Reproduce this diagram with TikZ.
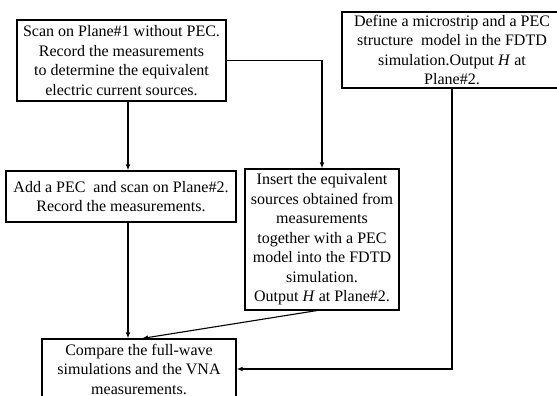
\documentclass[tikz,border=0pt]{standalone}
\usepackage{fontspec}
\setmainfont{Liberation Serif}
\usetikzlibrary{arrows.meta}
\begin{document}
\begin{tikzpicture}[x=1pt,y=-1pt,
  box/.style={draw, line width=1.1pt, align=center, inner sep=0pt,
    font=\fontsize{16}{19.5}\selectfont},
  arr/.style={line width=1.1pt, -{Latex[length=6pt,width=4.5pt]}}]
\useasboundingbox (0,0) rectangle (557,396);
\fill[white] (0,0) rectangle (557,396);
\clip (0,0) rectangle (557,396);
\coordinate (x1) at (128,0);
\node[box, minimum width=209pt, minimum height=81pt] (scan) at (121.5,60.5)
  {Scan on Plane\#1 without PEC.\\Record the measurements\\to determine the equivalent\\electric current sources.};
\node[box, minimum width=220pt, minimum height=76pt] (define) at (452,50)
  {Define a microstrip and a PEC\\structure~ model in the FDTD\\simulation.Output \textit{H} at\\Plane\#2.};
\node[box, minimum width=230pt, minimum height=51pt] (add) at (121,196.5)
  {Add a PEC~ and scan on Plane\#2.\\Record the measurements.};
\node[box, minimum width=154pt, minimum height=141pt] (insert) at (322,239.5)
  {Insert the equivalent\\sources obtained from\\measurements\\together with a PEC\\model into the FDTD\\simulation.\\Output \textit{H} at Plane\#2.};
\node[box, minimum width=194pt, minimum height=60pt] (compare) at (139,369)
  {Compare the full-wave\\simulations and the VNA\\measurements.};
\draw[arr] (scan.south -| x1) -- (add.north -| x1);
\draw[arr] (scan.east) -| (insert.north);
\draw[arr] (add.south -| x1) -- (compare.north -| x1);
\draw[arr] ([xshift=-5pt]insert.south) -- ([xshift=3pt]compare.north);
\draw[arr] (define.south) |- (compare.east);
\end{tikzpicture}
\end{document}
